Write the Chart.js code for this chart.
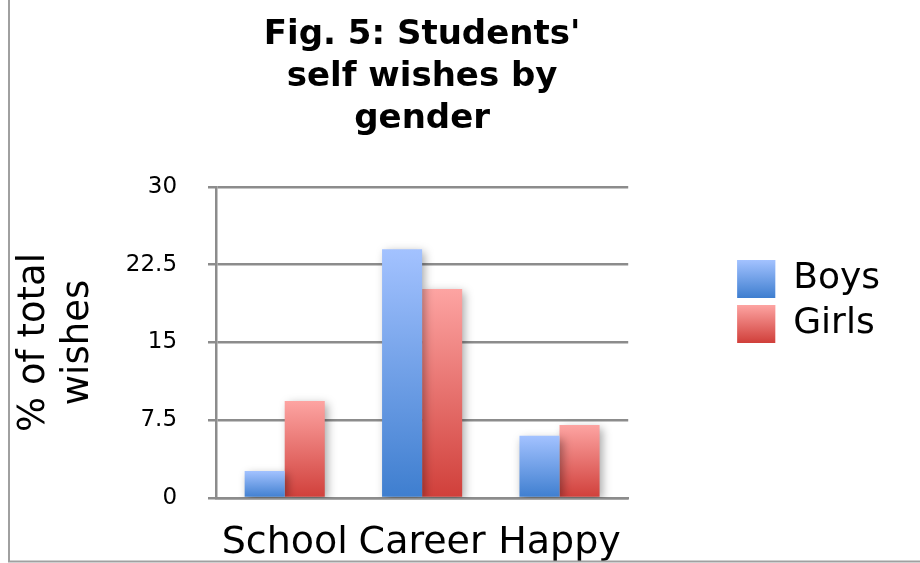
<!DOCTYPE html>
<html>
<head>
<meta charset="utf-8">
<script src="https://cdn.jsdelivr.net/npm/chart.js@4.4.1/dist/chart.umd.min.js"></script>
<style>
  html, body { margin: 0; padding: 0; background: #ffffff; }
  #wrap { width: 920px; height: 563px; position: relative; }
</style>
</head>
<body>
<div id="wrap"><canvas id="c" width="920" height="563"></canvas></div>
<script>
const categories = ['School', 'Career', 'Happy'];
const seriesNames = ['Boys', 'Girls'];
const boysValues = [2.6, 24.0, 6.0];
const girlsValues = [9.35, 20.15, 7.05];
const yTickLabels = ['0', '7.5', '15', '22.5', '30'];
const titleLines = ["Fig. 5: Students'", 'self wishes by', 'gender'];
const yTitleLines = ['% of total', 'wishes'];

const FONT = 'DejaVu Sans';
const boysColors = ['#a3c2ff', '#3e7ecf'];
const girlsColors = ['#fda4a2', '#d03f3a'];
const GRID = '#8c8c8c';

function barGradient(colors) {
  return function (ctx) {
    const chart = ctx.chart;
    if (!chart.chartArea || ctx.type !== 'data' || !ctx.parsed) return colors[1];
    const ys = chart.scales.y;
    const top = ys.getPixelForValue(ctx.parsed.y);
    const bottom = ys.getPixelForValue(0);
    const g = chart.ctx.createLinearGradient(0, top, 0, bottom);
    g.addColorStop(0, colors[0]);
    g.addColorStop(1, colors[1]);
    return g;
  };
}

const shadowPlugin = {
  id: 'barShadow',
  beforeDatasetsDraw(chart) {
    const c = chart.ctx;
    c.save();
    c.shadowColor = 'rgba(0,0,0,0.35)';
    c.shadowBlur = 9;
    c.shadowOffsetX = 3;
    c.shadowOffsetY = 3;
  },
  afterDatasetsDraw(chart) {
    chart.ctx.restore();
  }
};

const legendGradientPlugin = {
  id: 'legendGradient',
  afterDraw(chart) {
    const lg = chart.legend;
    if (!lg || !lg.legendHitBoxes) return;
    const opts = lg.options.labels;
    const bw = opts.boxWidth, bh = opts.boxHeight;
    const fs = opts.font.size;
    const sets = [boysColors, girlsColors];
    const c = chart.ctx;
    lg.legendHitBoxes.forEach((hb, i) => {
      const y = hb.top + Math.max((fs - bh) / 2, 0);
      const g = c.createLinearGradient(0, y, 0, y + bh);
      g.addColorStop(0, sets[i][0]);
      g.addColorStop(1, sets[i][1]);
      c.save();
      c.fillStyle = g;
      c.fillRect(hb.left, y, bw, bh);
      c.restore();
    });
  }
};

const framePlugin = {
  id: 'frame',
  afterDraw(chart) {
    const c = chart.ctx;
    c.save();
    c.strokeStyle = '#a0a0a0';
    c.lineWidth = 2;
    c.beginPath();
    c.moveTo(9, 0);
    c.lineTo(9, 561.5);
    c.lineTo(920, 561.5);
    c.stroke();
    c.restore();
  }
};

new Chart(document.getElementById('c'), {
  type: 'bar',
  data: {
    labels: categories,
    datasets: [
      { label: seriesNames[0], data: boysValues, backgroundColor: barGradient(boysColors), borderWidth: 0 },
      { label: seriesNames[1], data: girlsValues, backgroundColor: barGradient(girlsColors), borderWidth: 0 }
    ]
  },
  options: {
    responsive: false,
    animation: false,
    layout: { padding: { left: 0, right: 30, top: 0, bottom: -26.2 } },
    datasets: { bar: { categoryPercentage: 0.583, barPercentage: 1.0 } },
    plugins: {
      title: {
        display: true,
        text: titleLines,
        fullSize: false,
        color: '#000',
        font: { family: FONT, size: 34, weight: 'bold', lineHeight: 1.235 },
        padding: { top: 14.2, bottom: 46.8 }
      },
      legend: {
        display: true,
        position: 'right',
        align: 'center',
        title: { display: true, text: ' ', font: { size: 10, lineHeight: 1 }, padding: 1.9 },
        labels: {
          boxWidth: 38,
          boxHeight: 38,
          padding: 7,
          color: '#000',
          font: { family: FONT, size: 36 }
        }
      },
      tooltip: { enabled: false }
    },
    scales: {
      x: {
        grid: { display: false, drawTicks: false },
        border: { display: true, color: GRID, width: 2.5 },
        ticks: { color: '#000', padding: 26.6, maxRotation: 0, font: { family: FONT, size: 38, lineHeight: 1 } }
      },
      y: {
        min: 0,
        max: 30,
        grid: { color: GRID, lineWidth: 2.5, tickLength: 8, drawTicks: true },
        border: { display: true, color: GRID, width: 2.5 },
        ticks: {
          stepSize: 7.5,
          color: '#000',
          padding: 31,
          font: { family: FONT, size: 23 },
          callback: (v, i) => yTickLabels[i]
        },
        title: {
          display: true,
          text: yTitleLines,
          color: '#000',
          font: { family: FONT, size: 37, lineHeight: 1.2 },
          padding: { top: 12, bottom: -6 }
        }
      },
      gap: {
        type: 'linear',
        position: 'right',
        display: false,
        afterFit(scale) { scale.width = 102; }
      }
    }
  },
  plugins: [shadowPlugin, legendGradientPlugin, framePlugin]
});
</script>
</body>
</html>
